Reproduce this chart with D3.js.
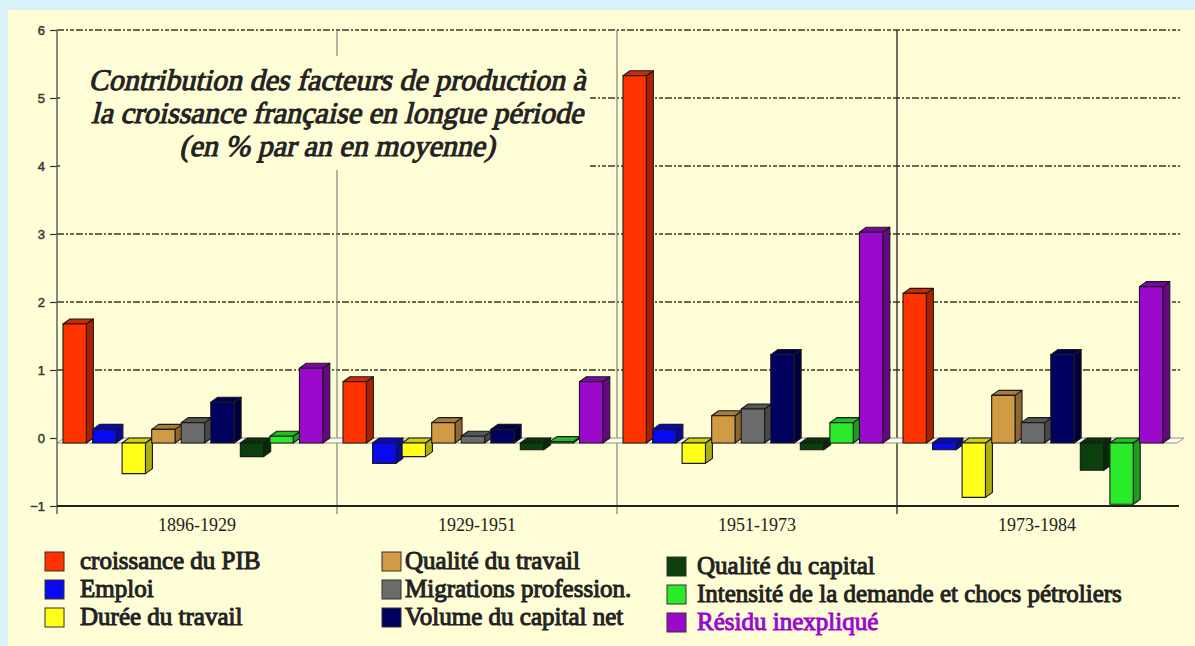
<!DOCTYPE html>
<html>
<head>
<meta charset="utf-8">
<script src="https://cdn.jsdelivr.net/npm/d3@7"></script>
<style>
  html, body { margin: 0; padding: 0; background: #d9f3fa; }
  svg { display: block; }
</style>
</head>
<body>
<svg id="chart" width="1195" height="646"></svg>
<script>
// ---------- DATA ----------
const categories = ["1896-1929", "1929-1951", "1951-1973", "1973-1984"];
const seriesNames = [
  "croissance du PIB", "Emploi", "Durée du travail",
  "Qualité du travail", "Migrations profession.", "Volume du capital net",
  "Qualité du capital", "Intensité de la demande et chocs pétroliers", "Résidu inexpliqué"
];
const croissancePIB    = [1.75, 0.9, 5.4, 2.2];
const emploi           = [0.2, -0.3, 0.2, -0.1];
const dureeTravail     = [-0.45, -0.2, -0.3, -0.8];
const qualiteTravail   = [0.2, 0.3, 0.4, 0.7];
const migrations       = [0.3, 0.1, 0.5, 0.3];
const volumeCapital    = [0.6, 0.2, 1.3, 1.3];
const qualiteCapital   = [-0.2, -0.1, -0.1, -0.4];
const intensiteDemande = [0.1, 0.02, 0.3, -0.9];
const residu           = [1.1, 0.9, 3.1, 2.3];
const seriesValues = [croissancePIB, emploi, dureeTravail, qualiteTravail, migrations,
                      volumeCapital, qualiteCapital, intensiteDemande, residu];
const yTicks = [-1, 0, 1, 2, 3, 4, 5, 6];
const titleLines = [
  "Contribution des facteurs de production à",
  "la croissance française en longue période",
  "(en % par an en moyenne)"
];

// ---------- STYLE ----------
const colors = ["#ff3300", "#0a0af0", "#ffff1a", "#d19a45", "#6b6b6b",
                "#00005e", "#0b3f0b", "#2aea2a", "#9a09cc"];
const SERIF = "'Liberation Serif', serif";

const svg = d3.select("#chart");
const W = 1195, H = 646;

// background
svg.append("rect").attr("x", 0).attr("y", 0).attr("width", W).attr("height", H).attr("fill", "#d9f3fa");
svg.append("rect").attr("x", 8).attr("y", 10).attr("width", W - 8).attr("height", H - 10).attr("fill", "#fffdd6");

// scales
const x0 = d3.scaleBand().domain(categories).range([57, 1177]).padding(0);
const x1 = d3.scaleBand().domain(seriesNames).range([6, 272]).padding(0);
const y = d3.scaleLinear().domain([-1, 6]).range([506, 30]);

const DX = 7, DY = 5;
const barW = x1.bandwidth() * 0.79;

// gridlines
const gridG = svg.append("g");
gridG.selectAll("line.grid").data(yTicks.filter(t => t > 0)).join("line")
  .attr("x1", 57).attr("x2", 1180)
  .attr("y1", d => y(d)).attr("y2", d => y(d))
  .attr("stroke", "#3a3a2a").attr("stroke-width", 1.5)
  .attr("stroke-dasharray", "7,2,2,2,4,2");

// category dividers
const divG = svg.append("g");
divG.selectAll("line").data(categories.slice(1)).join("line")
  .attr("x1", d => x0(d)).attr("x2", d => x0(d))
  .attr("y1", y(6)).attr("y2", y(-1) + 8)
  .attr("stroke", (d, i) => i === 2 ? "#222" : "#777")
  .attr("stroke-width", (d, i) => i === 2 ? 1.3 : 1.1);

// title background & text (serif, slanted + stroked for bold italic look)
svg.append("rect").attr("x", 60).attr("y", 56).attr("width", 530).attr("height", 114).attr("fill", "#fffdd6");
const SKEW = 13, tanS = Math.tan(SKEW * Math.PI / 180);
const titleG = svg.append("g").attr("transform", `translate(337,90) skewX(-${SKEW})`);
const title = titleG.append("text")
  .attr("font-family", SERIF)
  .attr("font-size", 30).attr("fill", "#222")
  .attr("stroke", "#222").attr("stroke-width", 1.0)
  .attr("text-anchor", "middle");
titleLines.forEach((t, i) => {
  title.append("tspan").attr("x", i * 33 * tanS).attr("y", i * 33).text(t);
});

// floor (zero plane)
const y0 = y(0);
svg.append("polygon")
  .attr("points", [[57, y0 + DY], [57 + DX, y0], [1177 + DX, y0], [1177, y0 + DY]].map(p => p.join(",")).join(" "))
  .attr("fill", "#fbfbf4").attr("stroke", "#8a8a80").attr("stroke-width", 0.9);

// bars
const barsG = svg.append("g");
categories.forEach((cat, ci) => {
  seriesNames.forEach((s, si) => {
    const v = seriesValues[si][ci];
    const bx = x0(cat) + x1(s);
    const yt = y(Math.max(v, 0)), yb = y(Math.min(v, 0));
    const base = d3.color(colors[si]);
    const g = barsG.append("g").attr("stroke", "#1a1a1a").attr("stroke-width", 1.1).attr("stroke-linejoin", "round");
    g.append("polygon")
      .attr("points", [[bx + barW, yt + DY], [bx + barW + DX, yt], [bx + barW + DX, yb], [bx + barW, yb + DY]].map(p => p.join(",")).join(" "))
      .attr("fill", base.darker(1.1));
    g.append("polygon")
      .attr("points", [[bx, yt + DY], [bx + DX, yt], [bx + barW + DX, yt], [bx + barW, yt + DY]].map(p => p.join(",")).join(" "))
      .attr("fill", base.darker(0.6));
    g.append("rect")
      .attr("x", bx).attr("y", yt + DY)
      .attr("width", barW).attr("height", Math.max(0.8, yb - yt))
      .attr("fill", base);
  });
});

// y axis
const yAxis = svg.append("g").attr("transform", "translate(57,0)")
  .call(d3.axisLeft(y).tickValues(yTicks).tickSize(7).tickPadding(5).tickFormat(d3.format("d")));
yAxis.select(".domain").remove();
yAxis.selectAll(".tick line").attr("stroke", "#333").attr("stroke-width", 1.2);
yAxis.selectAll(".tick text")
  .attr("font-family", "'Liberation Sans', Arial, sans-serif")
  .attr("font-size", 13).attr("fill", "#3a3a3a")
  .attr("stroke", "#3a3a3a").attr("stroke-width", 0.5);
svg.append("line").attr("x1", 57).attr("x2", 57).attr("y1", y(6)).attr("y2", y(-1) + 8)
  .attr("stroke", "#555").attr("stroke-width", 1.4);

// x axis
svg.append("line").attr("x1", 57).attr("x2", 1179).attr("y1", y(-1)).attr("y2", y(-1))
  .attr("stroke", "#222").attr("stroke-width", 1.8);
const xAxis = svg.append("g").attr("transform", `translate(0,${y(-1)})`)
  .call(d3.axisBottom(x0).tickSize(0).tickPadding(12));
xAxis.select(".domain").remove();
xAxis.selectAll(".tick text")
  .attr("font-family", SERIF)
  .attr("font-size", 18).attr("fill", "#222");

// legend
const legendCols = [
  {sx: 45, tx: 80, y0: 562, dy: 28},
  {sx: 382, tx: 405, y0: 562, dy: 28},
  {sx: 667, tx: 697, y0: 567, dy: 28}
];
const legend = svg.append("g");
seriesNames.forEach((s, i) => {
  const c = legendCols[Math.floor(i / 3)];
  const r = i % 3;
  const cy = c.y0 + r * c.dy;
  const col = i === 8 ? "#9a09cc" : "#222";
  legend.append("rect").attr("x", c.sx).attr("y", cy - 10).attr("width", 19).attr("height", 19)
    .attr("fill", colors[i]).attr("stroke", "#333").attr("stroke-width", 1);
  legend.append("text").attr("x", c.tx).attr("y", cy + 7)
    .attr("font-family", SERIF)
    .attr("font-size", 25)
    .attr("fill", col).attr("stroke", col).attr("stroke-width", 1.0)
    .text(s);
});
</script>
</body>
</html>
